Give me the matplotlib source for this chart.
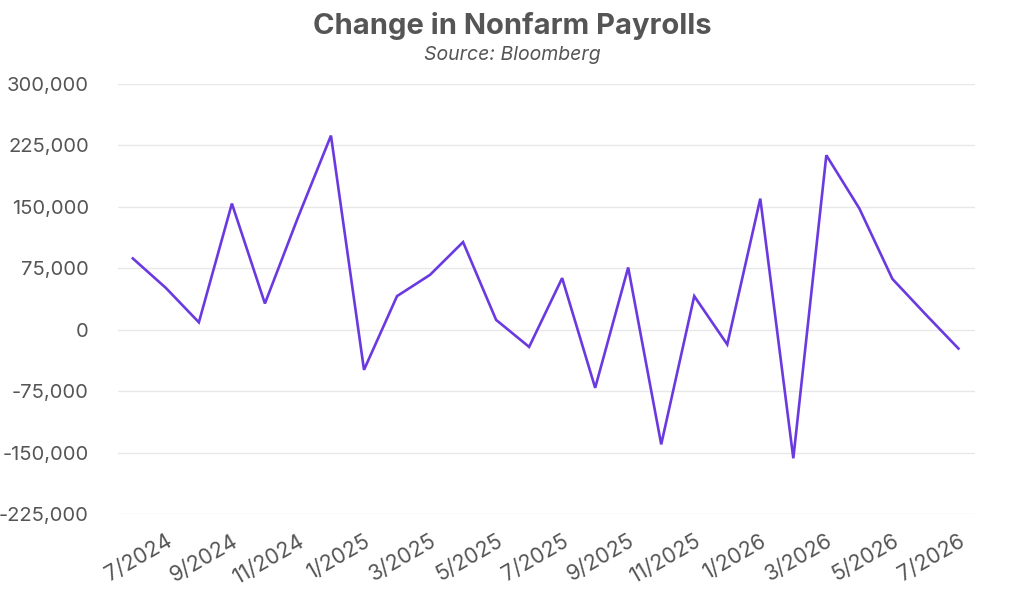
import matplotlib
matplotlib.use("Agg")
import matplotlib.pyplot as plt
from matplotlib.ticker import FuncFormatter, FixedLocator

months = ["6/2024", "7/2024", "8/2024", "9/2024", "10/2024", "11/2024", "12/2024",
          "1/2025", "2/2025", "3/2025", "4/2025", "5/2025", "6/2025", "7/2025",
          "8/2025", "9/2025", "10/2025", "11/2025", "12/2025", "1/2026", "2/2026",
          "3/2026", "4/2026", "5/2026", "6/2026", "7/2026"]
payrolls = [87000, 51000, 9000, 154000, 32000, 137000, 237000,
            -49000, 41000, 67000, 107000, 12000, -21000, 63000,
            -71000, 76000, -140000, 41000, -18000, 160000, -157000,
            213000, 148000, 62000, 19000, -23000]
yticks = [-225000, -150000, -75000, 0, 75000, 150000, 225000, 300000]

plt.rcParams['font.family'] = ['Inter', 'DejaVu Sans']
fig = plt.figure(figsize=(10.24, 5.99), dpi=100)
ax = fig.add_axes([0.1152, 0.1419, 0.8369, 0.7179])

x = list(range(len(months)))
ax.plot(x, payrolls, color="#6a3ae0", linewidth=1.9, solid_joinstyle="miter")

ax.set_ylim(-225000, 300000)
ax.set_xlim(-0.45, 25.5)
ax.yaxis.set_major_locator(FixedLocator(yticks))
ax.yaxis.set_major_formatter(FuncFormatter(lambda v, p: f"{int(v):,}"))
tick_idx = x[1::2]
ax.set_xticks(tick_idx)
ax.set_xticklabels([months[i] for i in tick_idx], rotation=30, ha="right",
                   rotation_mode="anchor")
ax.grid(axis="y", color="#e8e8e8", linewidth=1)
ax.set_axisbelow(True)
for s in ax.spines.values():
    s.set_visible(False)
ax.tick_params(axis="y", length=0, labelsize=14.5, labelcolor="#555555", pad=21)
ax.tick_params(axis="x", length=0, labelsize=15.5, labelcolor="#555555", pad=12)

fig.text(0.5, 0.957, "Change in Nonfarm Payrolls", ha="center", va="center",
         fontsize=21, fontweight="bold", color="#555555")
fig.text(0.5, 0.909, "Source: Bloomberg", ha="center", va="center",
         fontsize=14, style="italic", color="#555555")

fig.savefig("out.png", dpi=100)
